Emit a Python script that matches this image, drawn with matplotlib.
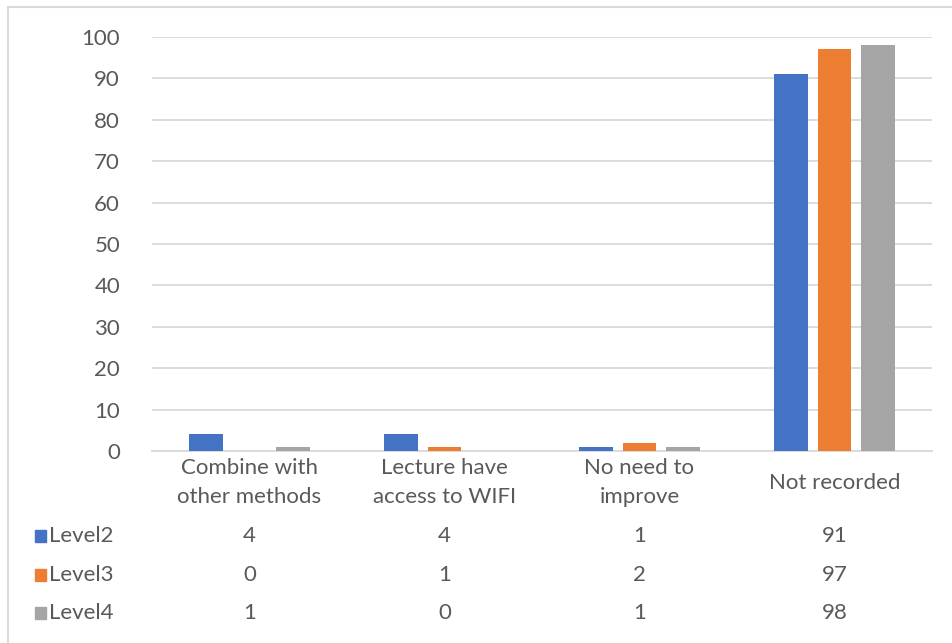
import matplotlib
matplotlib.use('Agg')
import numpy as np
import matplotlib.pyplot as plt
from matplotlib.patches import Rectangle

plt.rcParams.update({'font.family': ['Lato', 'DejaVu Sans'], 'font.size': 16})

categories = ['Combine with\nother methods', 'Lecture have\naccess to WIFI', 'No need to\nimprove', 'Not recorded']
series_names = ['Level2', 'Level3', 'Level4']
level2 = [4, 4, 1, 91]
level3 = [0, 1, 2, 97]
level4 = [1, 0, 1, 98]
colors = ['#4472C4', '#ED7D31', '#A5A5A5']
text_color = '#595959'

W, H = 952, 643
fig = plt.figure(figsize=(W / 100, H / 100), dpi=100)

# outer chart border
fig.patches.append(Rectangle((8 / W, -0.05), 1.0, (H - 7) / H + 0.05, transform=fig.transFigure,
                             fill=False, edgecolor='#D9D9D9', linewidth=1.5))

ax = fig.add_axes([152 / W, (H - 451) / H, 780 / W, 414 / H])
x = np.arange(len(categories))
offsets = [-0.223, 0, 0.223]
for vals, off, col in zip([level2, level3, level4], offsets, colors):
    ax.bar(x + off, vals, width=0.17, color=col, zorder=3)

ax.set_xlim(-0.5, len(categories) - 0.5)
ax.set_ylim(0, 100)
ax.set_yticks(range(0, 101, 10))
ax.yaxis.grid(True, color='#D9D9D9', linewidth=1.3, zorder=0)
ax.tick_params(axis='y', length=0, pad=23, colors=text_color, labelsize=16)
ax.set_xticks([])
for s in ['top', 'right', 'left']:
    ax.spines[s].set_visible(False)
ax.spines['bottom'].set_color('#D9D9D9')
ax.spines['bottom'].set_linewidth(1.3)

xt = ax.get_xaxis_transform()
for i, c in enumerate(categories):
    ax.text(i, -0.077, c, transform=xt, ha='center', va='center', color=text_color,
            linespacing=1.55, clip_on=False)

# data table under the axis
row_y = [536, 575, 613]
for name, vals, col, yp in zip(series_names, [level2, level3, level4], colors, row_y):
    fig.patches.append(Rectangle((35 / W, (H - yp - 6) / H), 11 / W, 12 / H,
                                 transform=fig.transFigure, color=col))
    fig.text(49 / W, (H - yp) / H, name, ha='left', va='center', color=text_color)
    for i, v in enumerate(vals):
        ax.text(i, (451 - yp) / 414, str(v), transform=xt, ha='center', va='center',
                color=text_color, clip_on=False)

fig.savefig('out.png', dpi=100)
